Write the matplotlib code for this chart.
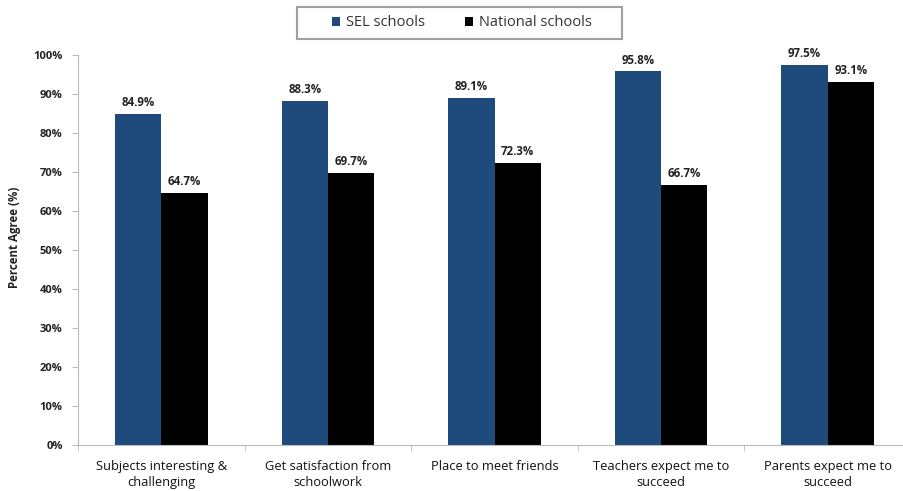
import matplotlib
matplotlib.use("Agg")
import matplotlib.pyplot as plt
from matplotlib.patches import Rectangle
import numpy as np

categories = ["Subjects interesting &\nchallenging", "Get satisfaction from\nschoolwork",
              "Place to meet friends", "Teachers expect me to\nsucceed", "Parents expect me to\nsucceed"]
sel_values = [84.9, 88.3, 89.1, 95.8, 97.5]
national_values = [64.7, 69.7, 72.3, 66.7, 93.1]
series_names = ["SEL schools", "National schools"]
yticks = [0, 10, 20, 30, 40, 50, 60, 70, 80, 90, 100]

plt.rcParams['font.family'] = ['Open Sans', 'DejaVu Sans']

fig = plt.figure(figsize=(9.04, 4.91), dpi=100)
ax = fig.add_axes([78/904, 46/491, 833/904, 390/491])

x = np.arange(len(categories))
w = 0.278
b1 = ax.bar(x - w/2, sel_values, w, color="#1e4a7c", label=series_names[0])
b2 = ax.bar(x + w/2, national_values, w, color="#000000", label=series_names[1])

for bars, vals in ((b1, sel_values), (b2, national_values)):
    for r, v in zip(bars, vals):
        ax.annotate(f"{v:.1f}%", (r.get_x() + r.get_width()/2, v), xytext=(0, 3.5),
                    textcoords="offset points", ha="center", va="bottom",
                    fontsize=8.3, fontweight="bold", color="#222222")

ax.set_xlim(-0.5, len(categories) - 0.5)
ax.set_ylim(0, 100)
ax.set_yticks(yticks)
ax.set_yticklabels([f"{t}%" for t in yticks], fontsize=8, fontweight="bold", color="#222222")
ax.set_xticks(x)
ax.set_xticklabels(categories, fontsize=9.3, color="#111111", linespacing=1.3)
ax.tick_params(axis="x", length=0, pad=11)
ax.set_xticks(np.arange(-0.5, len(categories), 1.0), minor=True)
ax.tick_params(axis="x", which="minor", length=4, color="#bbbbbb", direction="out")
ax.tick_params(axis="y", length=4, color="#bbbbbb", pad=7)
for s in ("top", "right"):
    ax.spines[s].set_visible(False)
ax.spines["left"].set_color("#bbbbbb")
ax.spines["bottom"].set_color("#bbbbbb")
ax.set_ylabel("Percent Agree (%)", fontsize=8.3, fontweight="bold", color="#222222")
ax.yaxis.set_label_coords(-0.068, 0.533)

leg = fig.legend(handles=[b1, b2], loc="center", bbox_to_anchor=(462/904, 1 - 23/491),
                 ncol=2, fontsize=10.5, frameon=False,
                 handlelength=0.55, handleheight=0.55, columnspacing=2.7, handletextpad=0.45)
for t in leg.get_texts():
    t.set_color("#333333")
fig.patches.append(Rectangle((297/904, 1 - 39/491), 325/904, 32/491, transform=fig.transFigure,
                             facecolor="none", edgecolor="#a0a0a0", linewidth=1.5))

fig.savefig("out.png", dpi=100)
